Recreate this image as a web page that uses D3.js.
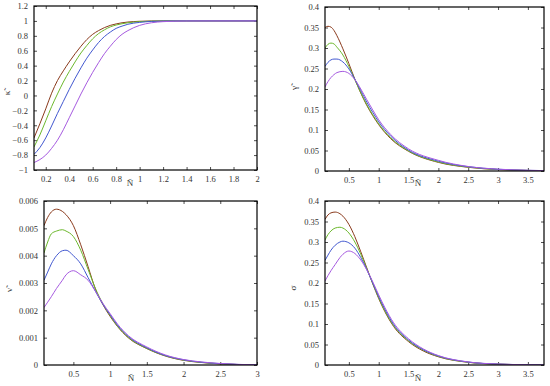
<!DOCTYPE html>
<html><head><meta charset="utf-8">
<script src="https://cdn.jsdelivr.net/npm/d3@7"></script>
<style>
html,body{margin:0;padding:0;background:#fff;}
</style></head>
<body><svg id="c" width="550" height="386"></svg>
<script>
// ---------- DATA ----------
const seriesNames = ["s1","s2","s3","s4"];
const seriesColors = ["#8a3a1c","#6cb82c","#4258d0","#a65ae0"];

// Panel 1: kappa vs N
const kappaX = [0.1,0.15,0.2,0.25,0.3,0.35,0.4,0.45,0.5,0.55,0.6,0.65,0.7,0.75,0.8,0.85,0.9,1.0,1.1,1.2,1.4,1.6,2.0];
const kappaS1 = [-0.57,-0.38,-0.18,0.03,0.20,0.33,0.45,0.56,0.66,0.75,0.82,0.87,0.91,0.94,0.96,0.975,0.985,0.995,0.999,1,1,1,1];
const kappaS2 = [-0.69,-0.53,-0.34,-0.15,0.02,0.18,0.32,0.45,0.57,0.67,0.76,0.83,0.88,0.92,0.945,0.962,0.975,0.99,0.997,0.999,1,1,1];
const kappaS3 = [-0.79,-0.70,-0.57,-0.41,-0.24,-0.08,0.08,0.23,0.37,0.50,0.61,0.71,0.79,0.85,0.90,0.93,0.955,0.98,0.993,0.998,1,1,1];
const kappaS4 = [-0.90,-0.86,-0.80,-0.71,-0.60,-0.46,-0.30,-0.14,0.02,0.17,0.31,0.44,0.56,0.66,0.75,0.82,0.87,0.94,0.975,0.99,0.999,1,1];

// Panel 2: gamma vs N
const gammaX = [0.1,0.15,0.2,0.25,0.3,0.4,0.5,0.6,0.7,0.8,0.9,1.0,1.2,1.5,2.0,2.5,3.0,3.5,3.77];
const gammaS1 = [0.350,0.353,0.351,0.343,0.330,0.298,0.262,0.224,0.190,0.160,0.135,0.113,0.079,0.048,0.021,0.009,0.0035,0.0013,0.0008];
const gammaS2 = [0.300,0.309,0.312,0.310,0.302,0.283,0.255,0.223,0.191,0.162,0.137,0.115,0.081,0.049,0.022,0.0095,0.0037,0.0014,0.0008];
const gammaS3 = [0.255,0.265,0.271,0.273,0.273,0.266,0.249,0.224,0.196,0.168,0.143,0.120,0.085,0.051,0.024,0.0105,0.0042,0.0016,0.001];
const gammaS4 = [0.205,0.218,0.228,0.235,0.240,0.243,0.238,0.223,0.200,0.174,0.149,0.125,0.089,0.054,0.026,0.011,0.0045,0.0017,0.001];

// Panel 3: nu vs N
const nuX = [0.1,0.15,0.2,0.27,0.35,0.4,0.5,0.6,0.7,0.8,0.9,1.0,1.1,1.25,1.5,1.75,2.0,2.25,2.5,2.75,3.0];
const nuS1 = [0.0051,0.0054,0.0056,0.0057,0.00562,0.0055,0.0051,0.0044,0.0036,0.00278,0.00222,0.00178,0.00141,0.00099,0.0006,0.00033,0.00017,0.00009,0.00004,0.000015,0.000005];
const nuS2 = [0.0041,0.0045,0.0048,0.0049,0.00495,0.0049,0.0047,0.0042,0.0035,0.0028,0.00225,0.00181,0.00143,0.00101,0.00061,0.00034,0.00018,0.000095,0.000045,0.000017,0.000006];
const nuS3 = [0.0031,0.0034,0.0037,0.0040,0.00418,0.0042,0.0040,0.0037,0.0032,0.0027,0.00223,0.00184,0.00146,0.00104,0.00063,0.00035,0.00019,0.0001,0.00005,0.00002,0.000007];
const nuS4 = [0.0021,0.0023,0.0025,0.0028,0.0031,0.0033,0.00345,0.0033,0.0031,0.0027,0.00226,0.00188,0.0015,0.00107,0.00066,0.00037,0.0002,0.00011,0.000055,0.000022,0.000008];

// Panel 4: sigma vs N
const sigmaX = [0.1,0.15,0.2,0.27,0.35,0.4,0.5,0.6,0.7,0.8,0.9,1.0,1.1,1.25,1.5,1.75,2.0,2.5,3.0,3.5,3.77];
const sigmaS1 = [0.355,0.366,0.371,0.373,0.369,0.363,0.343,0.313,0.276,0.237,0.198,0.162,0.131,0.094,0.057,0.034,0.020,0.0065,0.002,0.0006,0.0003];
const sigmaS2 = [0.305,0.318,0.327,0.334,0.336,0.334,0.322,0.300,0.270,0.235,0.199,0.164,0.133,0.096,0.059,0.036,0.021,0.0068,0.0021,0.0006,0.0003];
const sigmaS3 = [0.255,0.268,0.280,0.292,0.300,0.302,0.298,0.285,0.262,0.233,0.200,0.167,0.137,0.099,0.061,0.037,0.022,0.0072,0.0022,0.0007,0.0003];
const sigmaS4 = [0.205,0.218,0.230,0.245,0.262,0.270,0.278,0.272,0.256,0.232,0.203,0.171,0.141,0.103,0.064,0.039,0.023,0.0075,0.0023,0.0007,0.0003];

// Tick labels
const kappaXTicks = [0.2,0.4,0.6,0.8,1,1.2,1.4,1.6,1.8,2];
const kappaYTicks = [-1,-0.8,-0.6,-0.4,-0.2,0,0.2,0.4,0.6,0.8,1,1.2];
const wideXTicks = [0.5,1,1.5,2,2.5,3,3.5];
const nuXTicks = [0.5,1,1.5,2,2.5,3];
const gammaYTicks = [0,0.05,0.1,0.15,0.2,0.25,0.3,0.35,0.4];
const nuYTicks = [0,0.001,0.002,0.003,0.004,0.005,0.006];

// ---------- DRAW ----------
const FONT = "'Liberation Serif','DejaVu Serif',serif";
const svg = d3.select("#c");
const fmt = v => { let s = String(+v.toFixed(6)); return s.replace("-", "\u2212"); };

function panel(o){
  const g = svg.append("g");
  const x = d3.scaleLinear().domain(o.xd).range([o.l, o.r]);
  const y = d3.scaleLinear().domain(o.yd).range([o.b, o.t]);
  const tl = 3;
  const ax = g.append("g").attr("transform",`translate(0,${o.b})`)
    .call(d3.axisBottom(x).tickValues(o.xt).tickSize(-tl).tickPadding(6).tickFormat(fmt));
  const axt = g.append("g").attr("transform",`translate(0,${o.t})`)
    .call(d3.axisTop(x).tickValues(o.xt).tickSize(-tl).tickFormat(""));
  const ay = g.append("g").attr("transform",`translate(${o.l},0)`)
    .call(d3.axisLeft(y).tickValues(o.yt).tickSize(-tl).tickPadding(6).tickFormat(fmt));
  const ayr = g.append("g").attr("transform",`translate(${o.r},0)`)
    .call(d3.axisRight(y).tickValues(o.yt).tickSize(-tl).tickFormat(""));
  [ax,axt,ay,ayr].forEach(a=>{
    a.attr("font-family",FONT);
    a.select(".domain").remove();
    a.selectAll(".tick line").attr("stroke","#222").attr("stroke-width",0.8);
    a.selectAll(".tick text").attr("fill","#333").attr("font-family",FONT).style("font-size","8.5px");
  });
  const clipId = "clip"+o.id;
  g.append("clipPath").attr("id",clipId).append("rect")
    .attr("x",o.l).attr("y",o.t-1).attr("width",o.r-o.l).attr("height",o.b-o.t+1);
  const line = d3.line().x(d=>x(d[0])).y(d=>y(d[1])).curve(d3.curveMonotoneX);
  o.series.forEach((s,i)=>{
    g.append("path").datum(o.xs.map((xv,j)=>[xv,s[j]]))
      .attr("d",line).attr("fill","none").attr("stroke",seriesColors[i])
      .attr("stroke-width",1).attr("clip-path",`url(#${clipId})`);
  });
  g.append("rect").attr("x",o.l).attr("y",o.t).attr("width",o.r-o.l).attr("height",o.b-o.t)
    .attr("fill","none").attr("stroke","#000").attr("stroke-width",1.2);
  g.append("text").attr("x",o.xl[0]).attr("y",o.xl[1])
    .attr("text-anchor","middle").attr("font-family",FONT).style("font-size","9px").attr("fill","#333").text("N\u0303");
  g.append("text").attr("transform",`translate(${o.yl[0]},${o.yl[1]}) rotate(-90)`)
    .attr("text-anchor","middle").attr("font-family",FONT).style("font-size","9px").attr("fill","#333").text(o.ylab);
}

panel({id:1,l:34,r:257,t:6,b:170,xd:[0.1,2],yd:[-1,1.2],xt:kappaXTicks,yt:kappaYTicks,
  xs:kappaX,series:[kappaS1,kappaS2,kappaS3,kappaS4],xl:[130,186],yl:[10,93],ylab:"\u03BA\u0303"});
panel({id:2,l:325,r:544,t:7,b:171,xd:[0.1,3.77],yd:[0,0.4],xt:wideXTicks,yt:gammaYTicks,
  xs:gammaX,series:[gammaS1,gammaS2,gammaS3,gammaS4],xl:[418,186],yl:[297,88],ylab:"\u03B3\u0303"});
panel({id:3,l:44,r:257,t:201,b:365,xd:[0.1,3],yd:[0,0.006],xt:nuXTicks,yt:nuYTicks,
  xs:nuX,series:[nuS1,nuS2,nuS3,nuS4],xl:[131,381],yl:[12,290],ylab:"\u03BD\u0303"});
panel({id:4,l:325,r:544,t:201,b:365,xd:[0.1,3.77],yd:[0,0.4],xt:wideXTicks,yt:gammaYTicks,
  xs:sigmaX,series:[sigmaS1,sigmaS2,sigmaS3,sigmaS4],xl:[418,381],yl:[296,288],ylab:"\u03C3"});
</script></body></html>
